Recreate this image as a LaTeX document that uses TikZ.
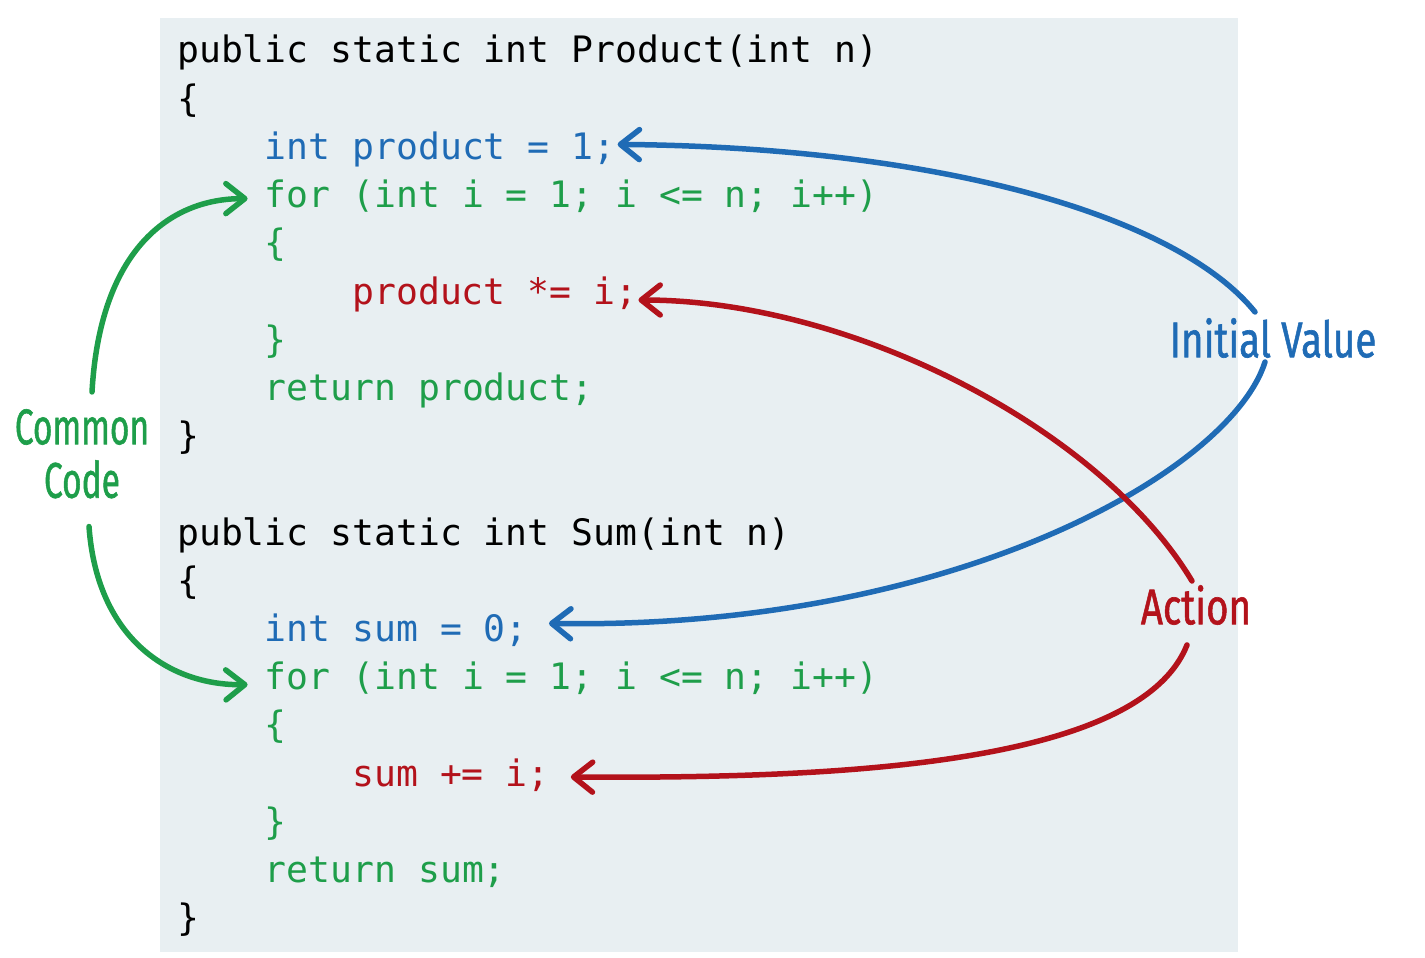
\documentclass[tikz,border=0pt]{standalone}
\usepackage{fontspec}
\usepackage{graphicx}
\setmonofont{DejaVu Sans Mono}
\newfontfamily\handfont{Fira Sans}[FakeBold=1.3]
\usetikzlibrary{arrows.meta,positioning}
\definecolor{codebg}{HTML}{E8EFF2}
\definecolor{codeblue}{HTML}{1F6BB5}
\definecolor{codegreen}{HTML}{1E9E4A}
\definecolor{codered}{HTML}{B3121B}
\newcommand{\codefont}{\ttfamily\fontsize{36.4}{48.2}\selectfont}
\newcommand{\handtext}[2][0.77]{\scalebox{#1}[1]{#2}}

\begin{document}
\begin{tikzpicture}[
    x=1pt, y=-1pt,
    code/.style={anchor=base west, inner sep=0pt, text height=27pt, text depth=9pt, font=\codefont},
    hand/.style={inner sep=0pt, font=\handfont\fontsize{50}{56}\selectfont},
    arrow/.style={-{Straight Barb[length=19pt,width=30pt,round]}, line width=5.5pt, line cap=round}
]
    \useasboundingbox (0,0) rectangle (1425,958);
    \fill[codebg] (160,18) rectangle (1238,952);

    % Product
    \node[code] (prodsig) at (177,63) {public static int Product(int n)};
    \node[code] (prodopen) at (177,111.2) {\{};
    \node[code, text=codeblue] (prodinit) at (264.6,159.4) {int product = 1;};
    \node[code, text=codegreen] (prodfor) at (264.6,207.6) {for (int i = 1; i <= n; i++)};
    \node[code, text=codegreen] (prodforopen) at (264.6,255.8) {\{};
    \node[code, text=codered] (prodaction) at (352.2,304) {product *= i;};
    \node[code, text=codegreen] (prodforclose) at (264.6,352.2) {\}};
    \node[code, text=codegreen] (prodreturn) at (264.6,400.4) {return product;};
    \node[code] (prodclose) at (177,448.6) {\}};

    % Sum
    \node[code] (sumsig) at (177,545) {public static int Sum(int n)};
    \node[code] (sumopen) at (177,593.2) {\{};
    \node[code, text=codeblue] (suminit) at (264.6,641.4) {int sum = 0;};
    \node[code, text=codegreen] (sumfor) at (264.6,689.6) {for (int i = 1; i <= n; i++)};
    \node[code, text=codegreen] (sumforopen) at (264.6,737.8) {\{};
    \node[code, text=codered] (sumaction) at (352.2,786) {sum += i;};
    \node[code, text=codegreen] (sumforclose) at (264.6,834.2) {\}};
    \node[code, text=codegreen] (sumreturn) at (264.6,882.4) {return sum;};
    \node[code] (sumclose) at (177,930.6) {\}};

    % labels
    \node[hand, text=codeblue] (initial) at (1273,338) {\handtext{Initial Value}};
    \node[hand, text=codered] (action) at (1196,605) {\handtext{Action}};
    \node[hand, text=codegreen] (common) at (82,427) {\handtext[0.67]{Common}};
    \node[hand, text=codegreen, below=15pt of common] (code) {\handtext[0.67]{Code}};

    \draw[arrow, codeblue] ([xshift=-18pt,yshift=6pt]initial.north) .. controls +(-75,-93) and +(333,3) .. ([xshift=2pt,yshift=6pt]prodinit.east);
    \draw[arrow, codeblue] ([xshift=-8pt,yshift=-4pt]initial.south) .. controls +(-35,110) and +(402,7) .. ([xshift=21pt,yshift=9pt]suminit.east);
    \draw[arrow, codered] ([xshift=-4pt,yshift=4pt]action.north) .. controls +(-92,-153) and +(212,0) .. ([xshift=1pt,yshift=-5pt]prodaction.east);
    \draw[arrow, codered] ([xshift=-9pt,yshift=-20pt]action.south) .. controls +(-47,118) and +(280,2) .. ([xshift=21pt]sumaction.east);
    \draw[arrow, codegreen] ([xshift=10pt,yshift=17pt]common.north) .. controls +(8,-142) and +(-78,0) .. ([xshift=-17pt]prodfor.west);
    \draw[arrow, codegreen] ([xshift=7pt,yshift=-28pt]code.south) .. controls +(8,112) and +(-78,1) .. ([xshift=-17pt,yshift=-4pt]sumfor.west);
\end{tikzpicture}
\end{document}
